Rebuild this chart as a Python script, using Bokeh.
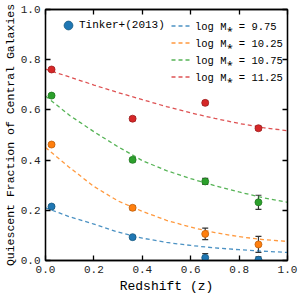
from bokeh.plotting import figure
from bokeh.models import (ColumnDataSource, Whisker, TeeHead, Legend, LegendItem,
                          LinearAxis, FixedTicker, Range1d, PrintfTickFormatter,
                          CustomLabelingPolicy)
from bokeh.embed import file_html
from bokeh.resources import INLINE

# ---- data ----
z_obs = [0.025, 0.36, 0.66, 0.88]
fq_975 = [0.215, 0.093, 0.011, 0.003]
fq_1025 = [0.462, 0.210, 0.106, 0.064]
fq_1075 = [0.657, 0.401, 0.315, 0.232]
fq_1125 = [0.761, 0.565, 0.628, 0.527]
err_975 = [0.006, 0.006, 0.016, 0.012]
err_1025 = [0.006, 0.008, 0.023, 0.032]
err_1075 = [0.006, 0.008, 0.012, 0.028]
err_1125 = [0.006, 0.008, 0.008, 0.008]

z_fit = [0.0, 0.1, 0.2, 0.3, 0.4, 0.5, 0.6, 0.7, 0.8, 0.9, 1.0]
fit_975 = [0.210, 0.174, 0.145, 0.113, 0.089, 0.072, 0.060, 0.050, 0.043, 0.037, 0.032]
fit_1025 = [0.450, 0.370, 0.295, 0.237, 0.196, 0.160, 0.133, 0.111, 0.095, 0.083, 0.076]
fit_1075 = [0.655, 0.578, 0.513, 0.453, 0.398, 0.358, 0.326, 0.298, 0.273, 0.250, 0.232]
fit_1125 = [0.762, 0.731, 0.699, 0.669, 0.641, 0.613, 0.588, 0.566, 0.546, 0.529, 0.517]

labels = ["log M\u204e = 9.75", "log M\u204e = 10.25", "log M\u204e = 10.75", "log M\u204e = 11.25"]
colors = ["#1f77b4", "#ff7f0e", "#2ca02c", "#d62728"]
edges = ["#17597f", "#c0600b", "#1f7a1f", "#a01e1e"]
ticks = [0.0, 0.2, 0.4, 0.6, 0.8, 1.0]

FONT = "'Liberation Mono', 'Courier New', monospace"

p = figure(width=300, height=303, output_backend="svg", toolbar_location=None,
           x_range=Range1d(0, 1), y_range=Range1d(0, 1),
           min_border_left=43, min_border_right=13, min_border_top=9, min_border_bottom=43,
           x_axis_label="Redshift (z)", y_axis_label="Quiescent Fraction of Central Galaxies")
p.xgrid.visible = False
p.ygrid.visible = False
p.outline_line_color = "black"
p.outline_line_width = 1.3
p.background_fill_color = "white"
p.border_fill_color = "white"

def style_axis(ax, show_labels=True):
    ax.ticker = FixedTicker(ticks=ticks)
    ax.formatter = PrintfTickFormatter(format="%.1f")
    ax.minor_tick_line_color = None
    ax.major_tick_in = 5
    ax.major_tick_out = 0
    ax.major_tick_line_width = 1.3
    ax.major_tick_line_color = "black"
    ax.axis_line_width = 1.3
    ax.axis_line_color = "black"
    ax.major_label_text_font = FONT
    ax.major_label_text_color = "#222222"
    ax.axis_label_text_font = FONT
    ax.axis_label_text_font_style = "normal"
    ax.axis_label_text_color = "black"
    if not show_labels:
        ax.major_label_text_font_size = "0px"
        ax.major_label_standoff = 0
        ax.major_label_policy = CustomLabelingPolicy(code="""
            try { for (let i = 0; i < indices.size; i++) { indices.set(i, false) } } catch (e) {}
            return indices
        """)

for ax in p.xaxis:
    style_axis(ax)
    ax.major_label_text_font_size = "11px"
    ax.major_label_standoff = 5
    ax.axis_label_text_font_size = "13px"
    ax.axis_label_standoff = 3
for ax in p.yaxis:
    style_axis(ax)
    ax.major_label_text_font_size = "11px"
    ax.major_label_standoff = 5
    ax.axis_label_text_font_size = "11.5px"
    ax.axis_label_standoff = 1

top = LinearAxis()
style_axis(top, show_labels=False)
p.add_layout(top, "above")
right = LinearAxis()
style_axis(right, show_labels=False)
p.add_layout(right, "right")

fits = [fit_975, fit_1025, fit_1075, fit_1125]
obs = [fq_975, fq_1025, fq_1075, fq_1125]
errs = [err_975, err_1025, err_1075, err_1125]

line_items = []
for i in range(4):
    r = p.line(z_fit, fits[i], line_color=colors[i], line_width=1.3, line_alpha=0.8,
               line_dash="4 3")
    line_items.append(LegendItem(label=labels[i], renderers=[r]))

for i in range(4):
    lo = [v - e for v, e in zip(obs[i], errs[i])]
    hi = [v + e for v, e in zip(obs[i], errs[i])]
    src = ColumnDataSource(dict(x=z_obs, lo=lo, hi=hi))
    w = Whisker(source=src, base="x", lower="lo", upper="hi",
                line_color="#333333", line_width=1.2,
                upper_head=TeeHead(size=6, line_color="#333333", line_width=1.2),
                lower_head=TeeHead(size=6, line_color="#333333", line_width=1.2))
    p.add_layout(w)

for i in range(4):
    p.scatter(z_obs, obs[i], size=7, fill_color=colors[i], line_color=edges[i], line_width=0.8)

# legend-only marker, placed outside the visible range
dummy = p.scatter([-5], [-5], size=10, fill_color=colors[0], line_color=edges[0], line_width=0.8)

leg1 = Legend(items=[LegendItem(label="Tinker+(2013)", renderers=[dummy])],
              location=(12, 223), orientation="vertical",
              glyph_width=22, glyph_height=24, label_height=24, label_standoff=0,
              padding=0, margin=0, spacing=2, border_line_color=None,
              background_fill_alpha=0,
              label_text_font=FONT, label_text_font_size="11px", label_text_color="black")
leg2 = Legend(items=line_items, location=(126, 176), orientation="vertical",
              glyph_width=19, glyph_height=15, label_height=15, label_standoff=5,
              padding=0, margin=0, spacing=2, border_line_color=None,
              background_fill_alpha=0,
              label_text_font=FONT, label_text_font_size="10.5px", label_text_color="black")
p.add_layout(leg1, "center")
p.add_layout(leg2, "center")

open("out.html", "w").write(file_html(p, INLINE))
